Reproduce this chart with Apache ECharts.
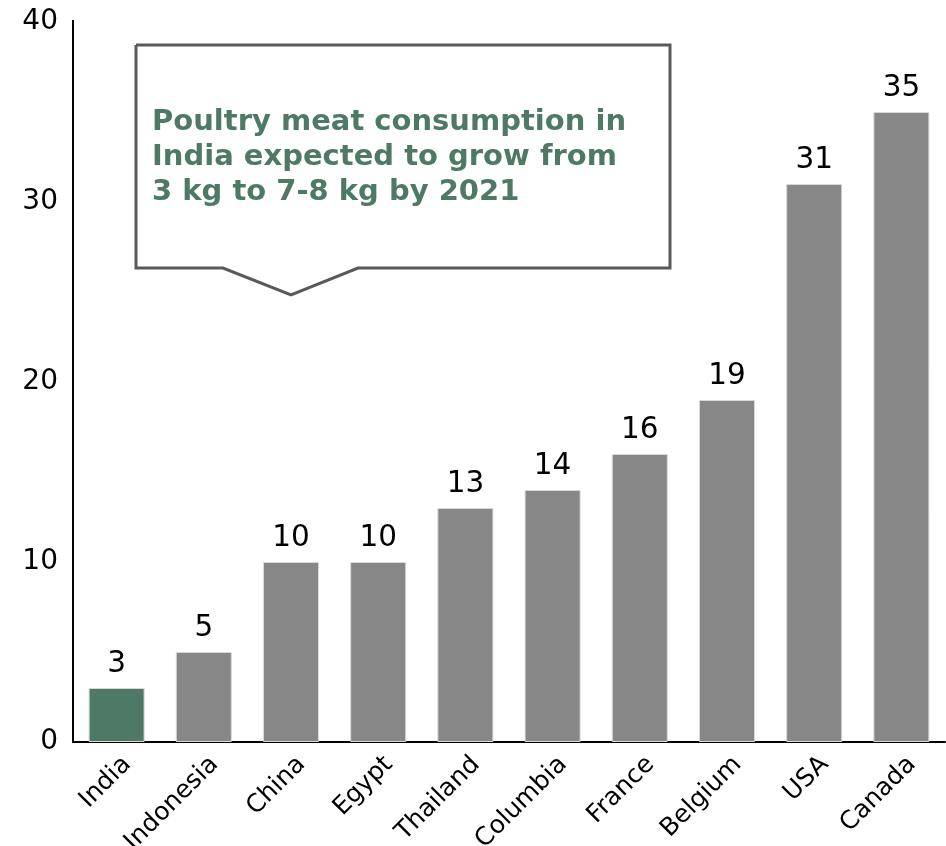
<!DOCTYPE html>
<html>
<head>
<meta charset="utf-8">
<script src="https://cdn.jsdelivr.net/npm/echarts@6/dist/echarts.min.js"></script>
<style>html,body{margin:0;padding:0;background:#fff}#c{width:946px;height:846px}</style>
</head>
<body>
<div id="c"></div>
<script>
var categories = ['India','Indonesia','China','Egypt','Thailand','Columbia','France','Belgium','USA','Canada'];
var values = [3,5,10,10,13,14,16,19,31,35];
var calloutText = 'Poultry meat consumption in\nIndia expected to grow from\n3 kg to 7-8 kg by 2021';

var chart = echarts.init(document.getElementById('c'));
var font = 'DejaVu Sans';
chart.setOption({
  animation: false,
  grid: {left: 73, right: 1, top: 22, bottom: 104, containLabel: false, outerBoundsMode: 'none'},
  xAxis: {
    type: 'category',
    data: categories,
    axisLine: {lineStyle: {color: '#000', width: 2}},
    axisTick: {show: false},
    axisLabel: {
      rotate: 45, color: '#000', fontFamily: font, fontSize: 25, lineHeight: 30,
      margin: 8, interval: 0,
      formatter: function (v) { return '\n' + v; }
    }
  },
  yAxis: {
    type: 'value',
    min: 0, max: 40, interval: 10,
    axisLine: {show: true, lineStyle: {color: '#000', width: 2}},
    axisTick: {show: false},
    splitLine: {show: false},
    axisLabel: {color: '#000', fontFamily: font, fontSize: 28, margin: 15}
  },
  series: [{
    type: 'bar',
    barWidth: 56,
    data: values.map(function (v, i) {
      return {value: v, itemStyle: {color: i === 0 ? '#4E7A65' : '#878787'}};
    }),
    itemStyle: {borderColor: '#d8d8d8', borderWidth: 1},
    label: {show: true, position: 'top', color: '#000', fontFamily: font, fontSize: 29.5, distance: 9}
  }],
  graphic: [
    {
      type: 'line',
      shape: {x1: 73, y1: 20, x2: 73, y2: 23},
      style: {stroke: '#000', lineWidth: 2}
    },
    {
      type: 'polyline',
      shape: {points: [[136,45],[670,45],[670,268],[358,268],[291,295],[223,268],[136,268],[136,45]]},
      style: {stroke: '#595959', lineWidth: 3, fill: '#fff'},
      z: 100
    },
    {
      type: 'text',
      left: 152, top: 105,
      style: {text: calloutText, fill: '#4E7A65', font: 'bold 29px "DejaVu Sans"', lineHeight: 35},
      z: 101
    }
  ]
});
</script>
</body>
</html>
